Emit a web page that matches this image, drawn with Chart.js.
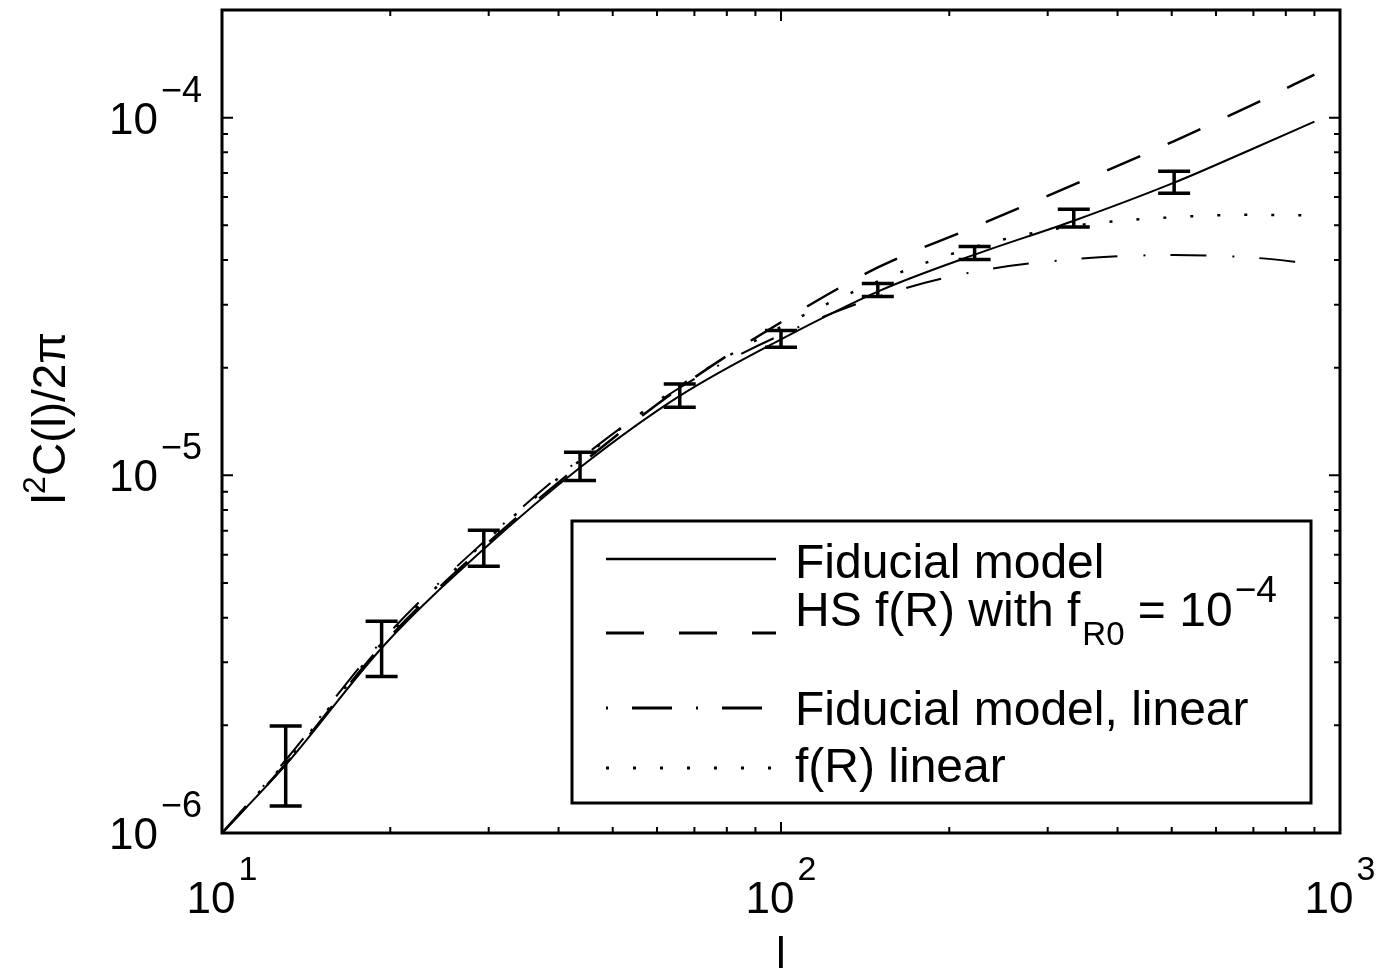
<!DOCTYPE html>
<html>
<head>
<meta charset="utf-8">
<script src="https://cdn.jsdelivr.net/npm/chart.js@4.4.1/dist/chart.umd.min.js"></script>
<style>
  html, body { margin: 0; padding: 0; background: #fff; }
  #wrap { width: 1383px; height: 977px; }
</style>
</head>
<body>
<div id="wrap"><canvas id="c"></canvas></div>
<script>
// multipole values where the curves are sampled
const ells = [10, 13, 19.5, 29.5, 44, 66, 100, 150, 222, 334, 505, 700, 900];
const fiducial       = [1.0e-6, 1.55e-6, 3.35e-6, 6.25e-6, 1.06e-5, 1.67e-5, 2.40e-5, 3.28e-5, 4.14e-5, 5.15e-5, 6.58e-5, 8.2e-5, 9.75e-5];
const hsFR           = [1.0e-6, 1.56e-6, 3.4e-6, 6.35e-6, 1.08e-5, 1.76e-5, 2.68e-5, 3.83e-5, 4.95e-5, 6.5e-5, 8.6e-5, 1.09e-4, 1.32e-4];
const fiducialLinear = [1.0e-6, 1.6e-6, 3.5e-6, 6.55e-6, 1.12e-5, 1.76e-5, 2.47e-5, 3.17e-5, 3.71e-5, 4.02e-5, 4.13e-5, 4.06e-5, 3.9e-5];
const fRLinear       = [1.0e-6, 1.58e-6, 3.45e-6, 6.5e-6, 1.11e-5, 1.78e-5, 2.6e-5, 3.5e-5, 4.35e-5, 4.98e-5, 5.27e-5, 5.35e-5, 5.33e-5];

// error bars
const barEll  = [13, 19.3, 29.4, 43.7, 65.9, 100, 149, 222, 334, 505];
const barLow  = [1.19e-6, 2.74e-6, 5.57e-6, 9.68e-6, 1.55e-5, 2.28e-5, 3.16e-5, 4.01e-5, 4.95e-5, 6.15e-5];
const barHigh = [1.99e-6, 3.91e-6, 7.02e-6, 1.16e-5, 1.80e-5, 2.54e-5, 3.44e-5, 4.36e-5, 5.55e-5, 7.08e-5];

// tick labels
const xTicks = [10, 100, 1000];
const xTickExp = ['1', '2', '3'];
const yTicks = [1e-6, 1e-5, 1e-4];
const yTickExp = ['\u22126', '\u22125', '\u22124'];

const FONT = '"Liberation Sans", Arial, sans-serif';

function pts(vals) {
  return ells.map((l, i) => ({ x: l, y: vals[i] }));
}

function lineSet(label, vals, dash, width) {
  return {
    label: label,
    data: pts(vals),
    borderColor: '#000',
    borderWidth: width,
    borderDash: dash,
    pointRadius: 0,
    fill: false,
    cubicInterpolationMode: 'monotone',
  };
}

// draws "10" with a raised exponent
function drawPow(ctx, exp, x, y, align, size, expSize, rise) {
  ctx.font = size + 'px ' + FONT;
  const wb = ctx.measureText('10').width;
  ctx.font = expSize + 'px ' + FONT;
  const we = ctx.measureText(exp).width;
  const gap = 3;
  let x0;
  if (align === 'center') x0 = x - (wb + gap + we) / 2;
  else x0 = x - (wb + gap + we);
  ctx.textAlign = 'left';
  ctx.textBaseline = 'alphabetic';
  ctx.font = size + 'px ' + FONT;
  ctx.fillText('10', x0, y);
  ctx.font = expSize + 'px ' + FONT;
  ctx.fillText(exp, x0 + wb + gap, y - rise);
}

const decor = {
  id: 'decor',
  afterDatasetsDraw(chart) {
    const { ctx, chartArea: a, scales: { x, y } } = chart;
    ctx.save();
    ctx.strokeStyle = '#000';
    ctx.fillStyle = '#000';
    ctx.setLineDash([]);

    // error bars
    ctx.lineWidth = 3.5;
    barEll.forEach((l, i) => {
      const px = x.getPixelForValue(l);
      const t = y.getPixelForValue(barHigh[i]);
      const b = y.getPixelForValue(barLow[i]);
      ctx.beginPath();
      ctx.moveTo(px, t); ctx.lineTo(px, b);
      ctx.moveTo(px - 16, t); ctx.lineTo(px + 16, t);
      ctx.moveTo(px - 16, b); ctx.lineTo(px + 16, b);
      ctx.stroke();
    });

    // ticks, pointing inward on all sides
    ctx.lineWidth = 2;
    ctx.beginPath();
    [10, 100].forEach(d => {
      for (let k = 2; k <= 10; k++) {
        const v = k * d;
        if (v >= 1000) continue;
        const px = x.getPixelForValue(v);
        const len = k === 10 ? 11 : 6;
        ctx.moveTo(px, a.bottom); ctx.lineTo(px, a.bottom - len);
        ctx.moveTo(px, a.top); ctx.lineTo(px, a.top + len);
      }
    });
    [1e-6, 1e-5, 1e-4].forEach(d => {
      for (let k = 1; k <= 9; k++) {
        const v = k * d;
        if (v >= 2e-4 || (k === 1 && d === 1e-6)) continue;
        const py = y.getPixelForValue(v);
        const len = k === 1 ? 11 : 6;
        ctx.moveTo(a.left, py); ctx.lineTo(a.left + len, py);
        ctx.moveTo(a.right, py); ctx.lineTo(a.right - len, py);
      }
    });
    ctx.stroke();

    // frame
    ctx.lineWidth = 3;
    ctx.strokeRect(a.left, a.top, a.right - a.left, a.bottom - a.top);

    // tick labels
    xTicks.forEach((v, i) => {
      drawPow(ctx, xTickExp[i], x.getPixelForValue(v), a.bottom + 80, 'center', 44, 34, 33);
    });
    yTicks.forEach((v, i) => {
      drawPow(ctx, yTickExp[i], 202, y.getPixelForValue(v) + 16, 'right', 44, 36, 32);
    });

    // axis titles
    ctx.textAlign = 'center';
    ctx.textBaseline = 'alphabetic';
    ctx.font = '44px ' + FONT;
    ctx.fillText('l', (a.left + a.right) / 2, 968);

    ctx.save();
    ctx.translate(65, 418);
    ctx.rotate(-Math.PI / 2);
    const big = '46px ' + FONT, small = '32px ' + FONT;
    ctx.font = big;
    const w1 = ctx.measureText('l').width;
    const w3 = ctx.measureText('C(l)/2\u03c0').width;
    ctx.font = small;
    const w2 = ctx.measureText('2').width;
    let sx = -(w1 + w2 + w3) / 2;
    ctx.textAlign = 'left';
    ctx.font = big; ctx.fillText('l', sx, 0); sx += w1;
    ctx.font = small; ctx.fillText('2', sx, -20); sx += w2;
    ctx.font = big; ctx.fillText('C(l)/2\u03c0', sx, 0);
    ctx.restore();

    // legend
    const lx = 572, ly = 521, lw = 739, lh = 282;
    ctx.fillStyle = '#fff';
    ctx.fillRect(lx, ly, lw, lh);
    ctx.fillStyle = '#000';
    ctx.lineWidth = 3;
    ctx.strokeRect(lx, ly, lw, lh);

    const sx0 = 606, sx1 = 776, tx = 795;
    const rows = [
      { dash: [], w: 2.5, ly: 559 },
      { dash: [38, 35], w: 3, ly: 633 },
      { dash: [2, 24, 40, 24], w: 3, ly: 708 },
      { dash: [3, 24], w: 3, ly: 768 },
    ];
    rows.forEach(r => {
      ctx.setLineDash(r.dash);
      ctx.lineWidth = r.w;
      ctx.beginPath();
      ctx.moveTo(sx0, r.ly); ctx.lineTo(sx1, r.ly);
      ctx.stroke();
    });
    ctx.setLineDash([]);

    ctx.textAlign = 'left';
    ctx.font = '48px ' + FONT;
    ctx.fillText('Fiducial model', tx, 578);
    ctx.fillText('Fiducial model, linear', tx, 725);
    ctx.fillText('f(R) linear', tx, 782);

    let hx = tx;
    ctx.font = '48px ' + FONT;
    ctx.fillText('HS f(R) with f', hx, 626);
    hx += ctx.measureText('HS f(R) with f').width + 2;
    ctx.font = '33px ' + FONT;
    ctx.fillText('R0', hx, 645);
    hx += ctx.measureText('R0').width;
    ctx.font = '48px ' + FONT;
    ctx.fillText(' = 10', hx, 626);
    hx += ctx.measureText(' = 10').width + 2;
    ctx.font = '37px ' + FONT;
    ctx.fillText('\u22124', hx, 602);

    ctx.restore();
  }
};

new Chart(document.getElementById('c'), {
  type: 'line',
  data: {
    datasets: [
      lineSet('Fiducial model', fiducial, [], 2),
      lineSet('HS f(R) with fR0 = 10^-4', hsFR, [36, 30], 2.5),
      lineSet('Fiducial model, linear', fiducialLinear, [36, 26, 2, 25], 2),
      lineSet('f(R) linear', fRLinear, [3, 24], 2.5),
    ]
  },
  options: {
    responsive: true,
    maintainAspectRatio: false,
    animation: false,
    layout: { padding: { left: 222, right: 43, top: 10, bottom: 144 } },
    plugins: { legend: { display: false }, tooltip: { enabled: false } },
    scales: {
      x: { type: 'logarithmic', min: 10, max: 1000, display: false },
      y: { type: 'logarithmic', min: 1e-6, max: 2e-4, display: false }
    }
  },
  plugins: [decor]
});
</script>
</body>
</html>
